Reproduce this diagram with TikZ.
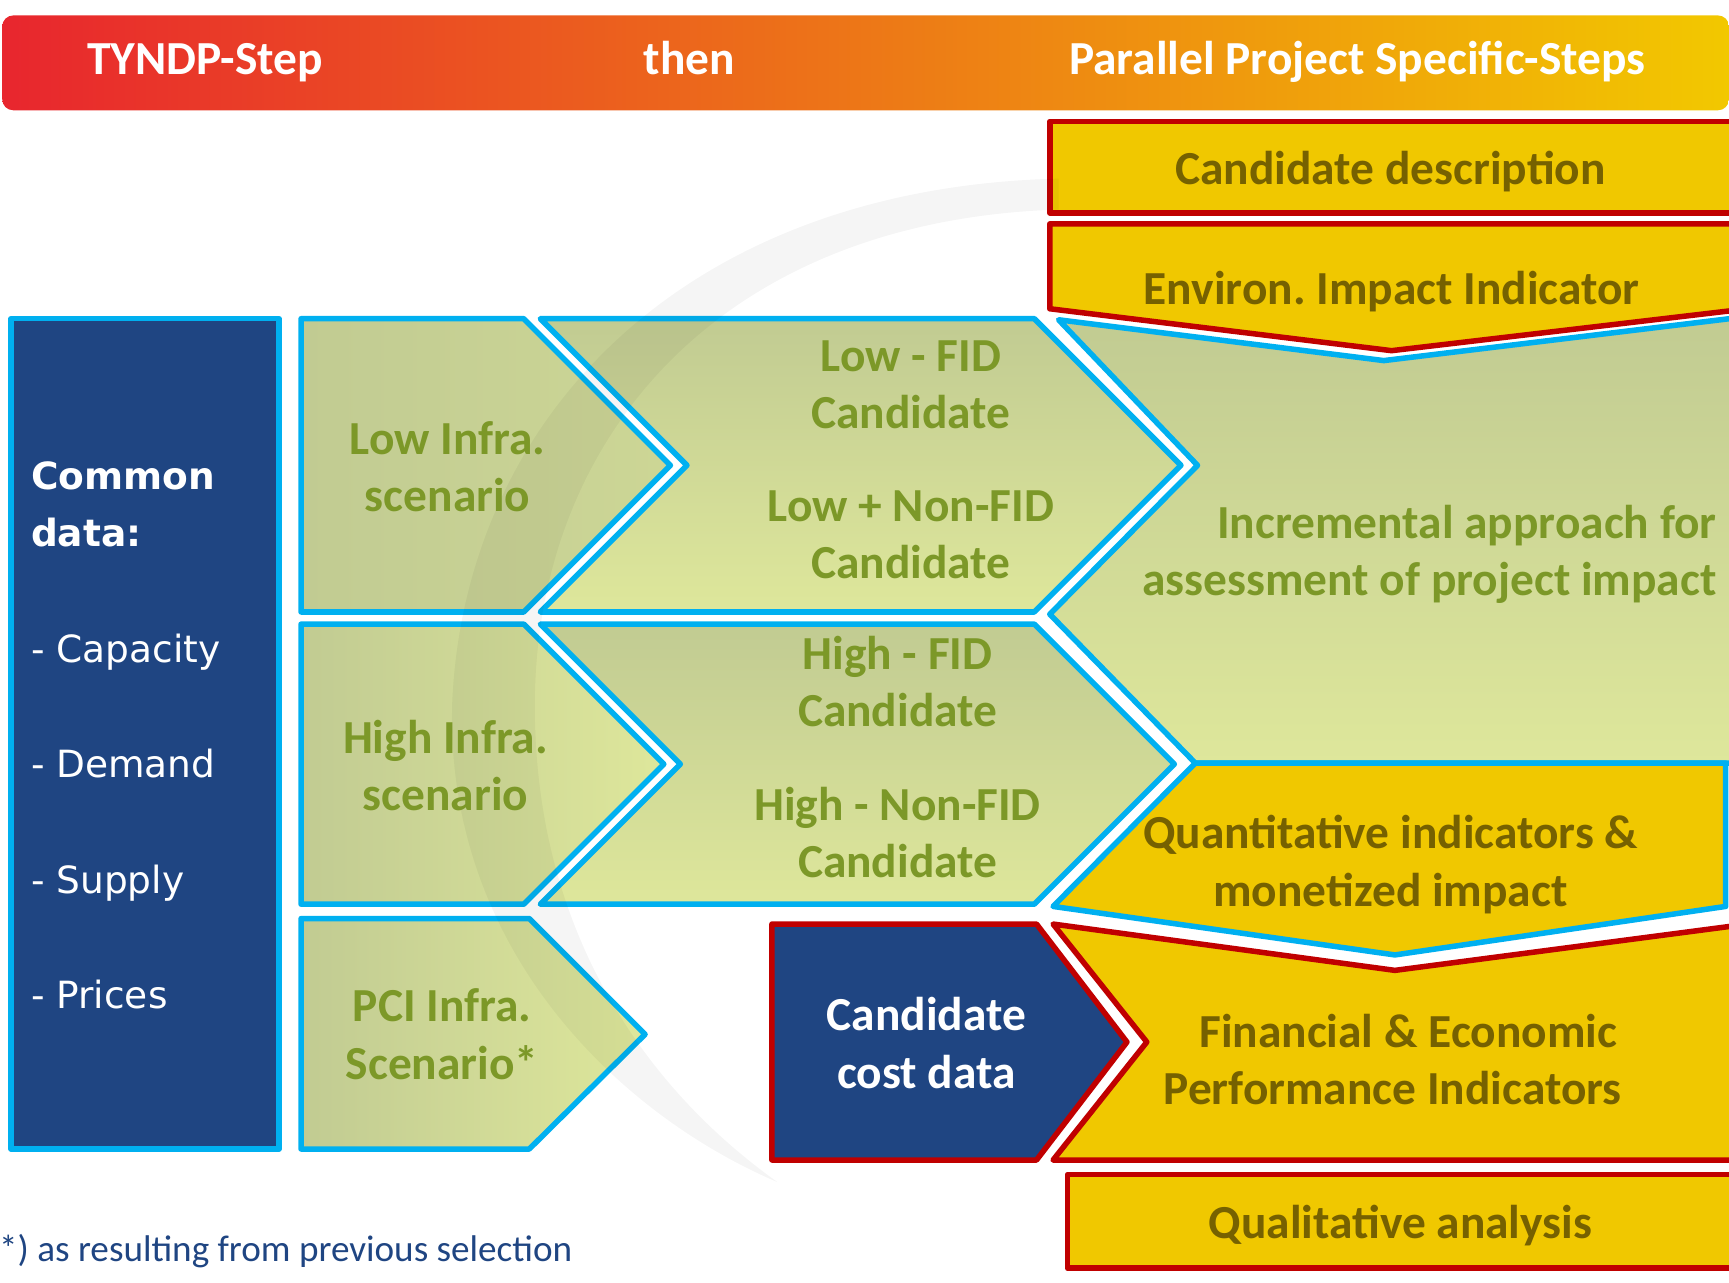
\documentclass[tikz,border=0pt]{standalone}
\usepackage{fontspec}
\setmainfont{Carlito}
\newfontfamily\listfont{DejaVu Sans}
\frenchspacing

\definecolor{entsoblue}{RGB}{31,69,130}
\definecolor{framecyan}{RGB}{0,176,240}
\definecolor{framered}{RGB}{192,0,0}
\definecolor{stepyellow}{RGB}{240,200,0}
\definecolor{olivetxt}{RGB}{124,152,40}
\definecolor{browntxt}{RGB}{118,97,0}
\definecolor{sagedark}{RGB}{193,203,146}
\definecolor{sagelight}{RGB}{222,231,155}
\definecolor{hdrred}{RGB}{232,38,46}
\definecolor{hdrorange}{RGB}{236,126,36}
\definecolor{hdryellow}{RGB}{242,200,0}

\begin{document}
\begin{tikzpicture}[
  x=1pt, y=-1pt,
  cyanbox/.style={draw=framecyan, line width=5pt, line join=round},
  redbox/.style={draw=framered, line width=5pt, line join=round},
  bigtxt/.style={font=\fontsize{43}{52}\selectfont\bfseries, align=center, inner sep=0pt},
  hdrtxt/.style={bigtxt, text=white},
  greentxt/.style={bigtxt, text=olivetxt},
  yellowtxt/.style={bigtxt, text=browntxt},
  listtxt/.style={font=\listfont\fontsize{34}{40}\selectfont, text=white, anchor=base west, inner sep=0pt}
]
\useasboundingbox (0,0) rectangle (1568,1163);

% header bar
\shade[rounded corners=10pt, left color=hdrred, middle color=hdrorange, right color=hdryellow]
  (2,14) rectangle (1568,100);
\node[hdrtxt, anchor=base] (tyndp) at (186,68) {TYNDP-Step};
\node[hdrtxt, anchor=base] (then) at (625,68) {then};
\node[hdrtxt, anchor=base] (parallel) at (1231,68) {Parallel Project Specific-Steps};

% common data column
\draw[cyanbox, fill=entsoblue] (10,289) rectangle (253,1042);

% scenario chevrons
\draw[cyanbox, left color=sagedark, right color=sagedark!60!sagelight]
  (273,289) -- (475,289) -- (608,422) -- (475,555) -- (273,555) -- cycle;
\draw[cyanbox, top color=sagedark, bottom color=sagelight]
  (490,289) -- (938,289) -- (1071,422) -- (938,555) -- (490,555) -- (623,422) -- cycle;
\draw[cyanbox, left color=sagedark, right color=sagelight]
  (273,566) -- (475,566) -- (602,693) -- (475,820) -- (273,820) -- cycle;
\draw[cyanbox, top color=sagedark, bottom color=sagelight]
  (490,566) -- (938,566) -- (1065,693) -- (938,820) -- (490,820) -- (617,693) -- cycle;
\draw[cyanbox, left color=sagedark, right color=sagelight]
  (273,833) -- (480,833) -- (585,938) -- (480,1042) -- (273,1042) -- cycle;

% project specific steps
\draw[redbox, fill=stepyellow] (952,110) rectangle (1585,193);
\draw[redbox, fill=stepyellow]
  (952,203) -- (1585,203) -- (1585,280) -- (1262,318) -- (952,280) -- cycle;
\draw[cyanbox, top color=sagedark, bottom color=sagelight]
  (960,290) -- (1255,327) -- (1585,287) -- (1585,692) -- (1084,692)
  -- (952,557) -- (1086,422) -- cycle;
\draw[cyanbox, fill=stepyellow]
  (1084,692) -- (1565,692) -- (1565,822) -- (1265,866) -- (955,822) -- cycle;
\draw[redbox, fill=entsoblue]
  (700,838) -- (940,838) -- (1022,945) -- (940,1052) -- (700,1052) -- cycle;
\draw[redbox, fill=stepyellow]
  (955,838) -- (1265,880) -- (1585,838) -- (1585,1052) -- (955,1052) -- (1040,945) -- cycle;
\draw[redbox, fill=stepyellow] (968,1065) rectangle (1585,1150);

% faint swoosh in the background
\fill[black, fill opacity=0.04]
  (960,162) .. controls (620,170) and (420,380) .. (410,640)
  .. controls (405,860) and (560,1010) .. (705,1072)
  .. controls (590,990) and (485,850) .. (485,640)
  .. controls (485,400) and (650,200) .. (960,190) -- cycle;

% texts
\node[listtxt, font=\listfont\fontsize{34}{40}\selectfont\bfseries] (common) at (28,444) {Common};
\node[listtxt, font=\listfont\fontsize{34}{40}\selectfont\bfseries] (data) at (28,496) {data:};
\node[listtxt] (capacity) at (28,601) {- Capacity};
\node[listtxt] (demand) at (28,705) {- Demand};
\node[listtxt] (supply) at (28,810) {- Supply};
\node[listtxt] (prices) at (28,915) {- Prices};

\node[greentxt] (lowinfra) at (406,423) {Low Infra.\\scenario};
\node[greentxt] (lowfid) at (826,349) {Low - FID\\Candidate};
\node[greentxt] (lownonfid) at (826,485) {Low + Non-FID\\Candidate};
\node[greentxt] (highinfra) at (404,694) {High Infra.\\scenario};
\node[greentxt] (highfid) at (814,618) {High - FID\\Candidate};
\node[greentxt] (highnonfid) at (814,755) {High - Non-FID\\Candidate};
\node[greentxt] (pciinfra) at (401,938) {PCI Infra.\\Scenario*};
\node[greentxt, align=right, anchor=east] (incremental) at (1557,503)
  {Incremental approach for\\assessment of project impact};

\node[yellowtxt] (description) at (1261,156) {Candidate description};
\node[yellowtxt] (environ) at (1262,264) {Environ. Impact Indicator};
\node[yellowtxt] (quantitative) at (1261,784) {Quantitative indicators \&\\monetized impact};
\node[hdrtxt] (costdata) at (840,946) {Candidate\\cost data};
\node[yellowtxt] (financial) at (1263,961) {\hspace*{28pt}Financial \& Economic\\Performance Indicators};
\node[yellowtxt] (qualitative) at (1270,1111) {Qualitative analysis};

\node[font=\fontsize{33.7}{40}\selectfont, text=entsoblue, anchor=west, inner sep=0pt]
  (footnote) at (-1,1135) {*) as resulting from previous selection};
\end{tikzpicture}
\end{document}
